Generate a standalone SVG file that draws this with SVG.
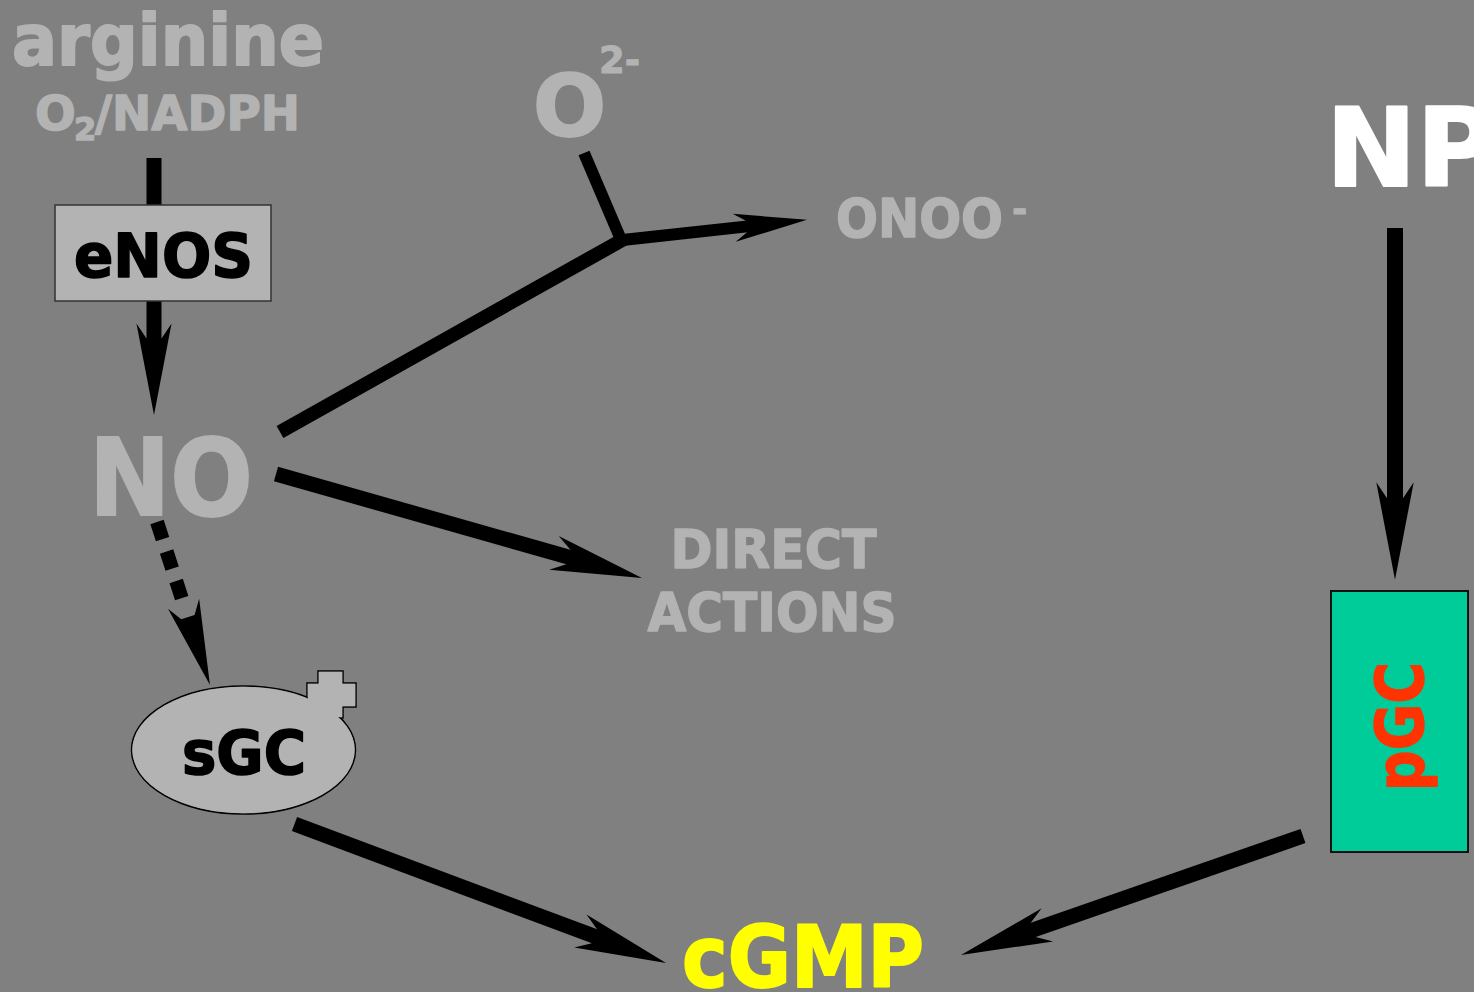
<svg xmlns="http://www.w3.org/2000/svg" width="1474" height="992" viewBox="0 0 1474 992">
  <style>
    .lbl { font-family: "DejaVu Sans", "Verdana", sans-serif; font-weight: bold; stroke-linejoin: round; }
    .grey { fill: #b3b3b3; stroke: #b3b3b3; }
    .ink { fill: #000; stroke: #000; }
    .conn { fill: none; stroke: #000; stroke-linecap: butt; }
    .box { fill: #b3b3b3; }
  </style>
  <defs>
    <!-- notched arrowhead, sized in stroke-width units; the shaft ends at x=0 -->
    <marker id="head" markerUnits="strokeWidth" orient="auto" refX="0" refY="0"
            markerWidth="8" markerHeight="4" overflow="visible">
      <path d="M4.8,0 L-1.3,-1.17 L-0.3,-0.5 L-0.3,0.5 L-1.3,1.17 Z" fill="#000"/>
    </marker>
  </defs>

  <rect width="1474" height="992" fill="#808080"/>

  <g id="connectors">
    <!-- arginine through eNOS to NO -->
    <line class="conn" x1="154" y1="158" x2="154" y2="343" stroke-width="15" marker-end="url(#head)"/>
    <!-- NO to direct actions -->
    <line class="conn" x1="276" y1="474" x2="572.7" y2="558.3" stroke-width="15" marker-end="url(#head)"/>
    <!-- NO meets superoxide, giving peroxynitrite -->
    <line class="conn" x1="280" y1="432" x2="624" y2="239" stroke-width="14"/>
    <line class="conn" x1="584" y1="153" x2="622" y2="242" stroke-width="12"/>
    <line class="conn" x1="618" y1="240.5" x2="749.7" y2="226.1" stroke-width="12" marker-end="url(#head)"/>
    <!-- NO activates sGC (dashed) -->
    <line class="conn" x1="157" y1="522" x2="189.2" y2="621.1" stroke-width="14"
          stroke-dasharray="18 13 18 13 18 100" marker-end="url(#head)"/>
    <!-- sGC to cGMP -->
    <line class="conn" x1="294.5" y1="824" x2="598.6" y2="937.8" stroke-width="15" marker-end="url(#head)"/>
    <!-- NP to pGC -->
    <line class="conn" x1="1395" y1="228" x2="1395" y2="503" stroke-width="16" marker-end="url(#head)"/>
    <!-- pGC to cGMP -->
    <line class="conn" x1="1303" y1="836" x2="1029" y2="931.3" stroke-width="15" marker-end="url(#head)"/>
  </g>

  <g id="arginine">
    <text class="lbl grey" x="12" y="65" font-size="71" stroke-width="2" textLength="312" lengthAdjust="spacingAndGlyphs">arginine</text>
    <text class="lbl grey" y="130" font-size="48" stroke-width="1.4"><tspan x="35">O</tspan><tspan x="74" dy="10" font-size="32">2</tspan><tspan x="95" dy="-10" textLength="205" lengthAdjust="spacingAndGlyphs">/NADPH</tspan></text>
  </g>

  <g id="eNOS">
    <rect class="box" x="55" y="205" width="216" height="96" stroke="#333" stroke-width="1.5"/>
    <text class="lbl ink" x="74" y="277" font-size="60" stroke-width="1.6" textLength="179" lengthAdjust="spacingAndGlyphs">eNOS</text>
  </g>

  <g id="NO">
    <text class="lbl grey" x="89" y="515" font-size="107" stroke-width="2" textLength="164" lengthAdjust="spacingAndGlyphs">NO</text>
  </g>

  <g id="superoxide">
    <text class="lbl grey" y="136" font-size="86" stroke-width="2"><tspan x="533">O</tspan><tspan x="599" y="73" font-size="37" stroke-width="1">2-</tspan></text>
  </g>

  <g id="peroxynitrite">
    <text class="lbl grey" y="237" font-size="53" stroke-width="1.5"><tspan x="836" textLength="167" lengthAdjust="spacingAndGlyphs">ONOO</tspan><tspan x="1012" y="222" font-size="37" stroke-width="1">-</tspan></text>
  </g>

  <g id="direct-actions">
    <text class="lbl grey" x="773.5" y="568" font-size="53" stroke-width="1.5" text-anchor="middle" textLength="206" lengthAdjust="spacingAndGlyphs">DIRECT</text>
    <text class="lbl grey" x="772" y="631" font-size="53" stroke-width="1.5" text-anchor="middle" textLength="249" lengthAdjust="spacingAndGlyphs">ACTIONS</text>
  </g>

  <g id="sGC">
    <!-- outlines first, fills after, so the ellipse and the plus read as one outlined shape -->
    <ellipse cx="243.5" cy="750" rx="112" ry="64" fill="none" stroke="#000" stroke-width="1.5"/>
    <path d="M318,671 H343 V683 H356 V707 H343 V718 H318 V707 H307 V683 H318 Z" fill="none" stroke="#000" stroke-width="1.5"/>
    <ellipse class="box" cx="243.5" cy="750" rx="111.2" ry="63.2"/>
    <path class="box" d="M318.7,671.7 H342.3 V683.7 H355.3 V706.3 H342.3 V717.3 H318.7 V706.3 H307.7 V683.7 H318.7 Z"/>
    <text class="lbl ink" x="182" y="774" font-size="60" stroke-width="1.6" textLength="124" lengthAdjust="spacingAndGlyphs">sGC</text>
  </g>

  <g id="NP">
    <text class="lbl" x="1326" y="186" font-size="108" fill="#fff" stroke="#fff" stroke-width="2">NP</text>
  </g>

  <g id="pGC">
    <rect x="1331" y="591" width="137" height="261" fill="#00cc99" stroke="#111" stroke-width="2"/>
    <text class="lbl" transform="translate(1423,791) rotate(-90)" x="0" y="0" font-size="65" fill="#ff3300" stroke="#ff3300" stroke-width="1.5" textLength="129" lengthAdjust="spacingAndGlyphs">pGC</text>
  </g>

  <g id="cGMP">
    <text class="lbl" x="682" y="987" font-size="86" fill="#ffff00" stroke="#ffff00" stroke-width="2" textLength="242" lengthAdjust="spacingAndGlyphs">cGMP</text>
  </g>
</svg>
